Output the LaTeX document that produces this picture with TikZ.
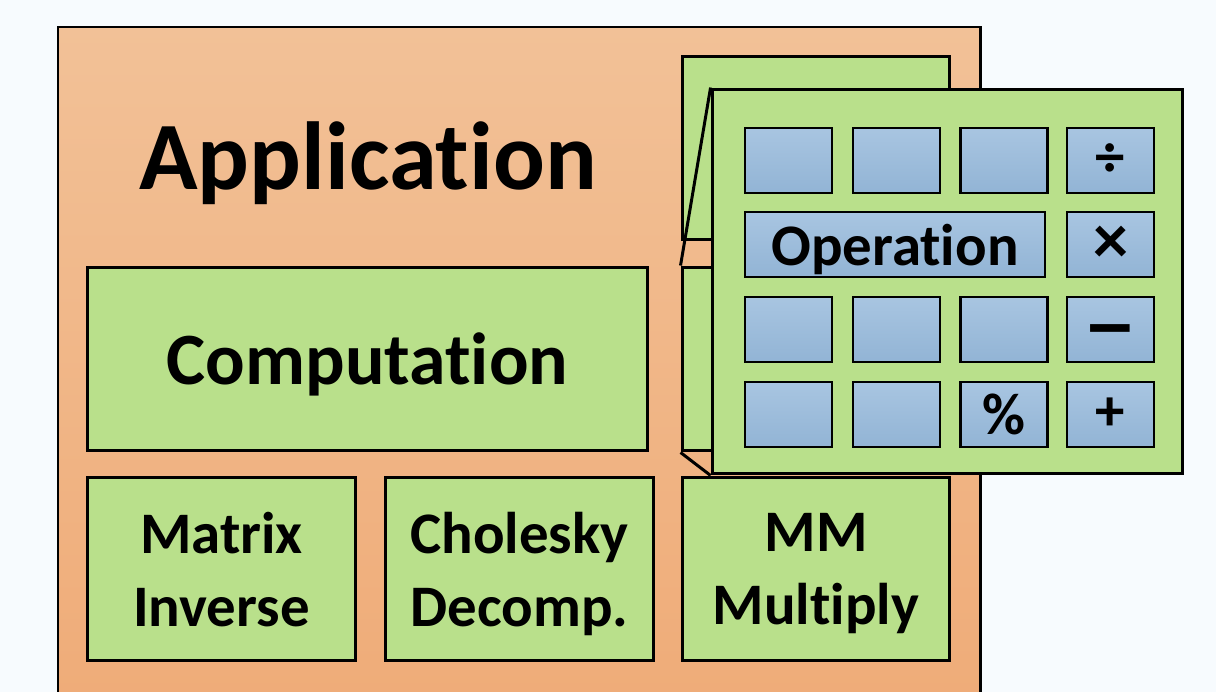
\documentclass[tikz,border=0pt]{standalone}
\usepackage{fontspec}
\setmainfont{Carlito}[Ligatures=NoCommon]
\definecolor{bgpaper}{HTML}{F7FBFE}
\definecolor{apptop}{HTML}{F2C197}
\definecolor{appbottom}{HTML}{EFAB77}
\definecolor{layergreen}{HTML}{B9E08B}
\definecolor{keytop}{HTML}{A8C5E1}
\definecolor{keybottom}{HTML}{92B4D5}
\tikzset{
  layer/.style={draw, line width=1.7pt, fill=layergreen, inner sep=0pt,
    align=center, text depth=0pt, minimum width=5.36cm, minimum height=3.68cm,
    font=\bfseries\fontsize{33.5}{41.5}\selectfont},
  calckey/.style={draw, line width=1.3pt, top color=keytop, bottom color=keybottom,
    inner sep=0pt, text depth=0pt, minimum width=1.74cm, minimum height=1.3cm,
    font=\bfseries\fontsize{33.5}{40}\selectfont},
}
\begin{document}
\begin{tikzpicture}[x=0.02cm, y=-0.02cm]
  \useasboundingbox (0,0) rectangle (1216,692);
  \fill[bgpaper] (0,0) rectangle (1216,692);
  \clip (0,0) rectangle (1216,692);

  % application layer
  \draw[line width=1.7pt, top color=apptop, bottom color=appbottom] (58,27) rectangle (980,730);
  \node[anchor=base, font=\bfseries\fontsize{55}{66}\selectfont] (app) at (368,190) {Application};

  % layers behind the calculator
  \node[layer] (back1) at (816,148) {};
  \node[layer] (back2) at (816,359) {};

  \node[layer, minimum width=11.22cm, font=\bfseries\fontsize{42}{50}\selectfont] (comp) at (367.5,359) {Computation};
  \node[layer] (matinv) at (221.5,569) {Matrix\\Inverse};
  \node[layer] (chol) at (519.5,569) {Cholesky\\Decomp.};
  \node[layer] (mmmul) at (816,569) {MM\\Multiply};

  % calculator
  \node[layer, minimum width=9.42cm, minimum height=7.7cm] (calc) at (947.5,281.5) {};
  \draw[line width=1.7pt] (calc.north west) -- (back2.north west);
  \draw[line width=1.7pt] (back2.south west) -- (calc.south west);

  \foreach \c/\x in {1/788.5, 2/896.5, 3/1004}{
    \node[calckey] (key1\c) at (\x,160.5) {};
    \node[calckey] (key3\c) at (\x,329.5) {};
  }
  \node[calckey] (key41) at (788.5,414.5) {};
  \node[calckey] (key42) at (896.5,414.5) {};
  \node[calckey] (key43) at (1004,414.5) {\%};
  \node[calckey, minimum width=6cm] (keyop) at (895,244.5) {Operation};
  \node[calckey] (keydiv) at (1110.5,160.5) {÷};
  \node[calckey, font=\bfseries\fontsize{40}{40}\selectfont] (keymul) at (1110.5,244.5) {×};
  \node[calckey] (keysub) at (1110.5,329.5) {};
  \node[yshift=-0.2cm, font=\bfseries\fontsize{33.5}{40}\selectfont] (subsign) at (keysub) {\scalebox{1.9}[1.5]{–}};
  \node[calckey] (keyadd) at (1110.5,414.5) {+};
\end{tikzpicture}
\end{document}
